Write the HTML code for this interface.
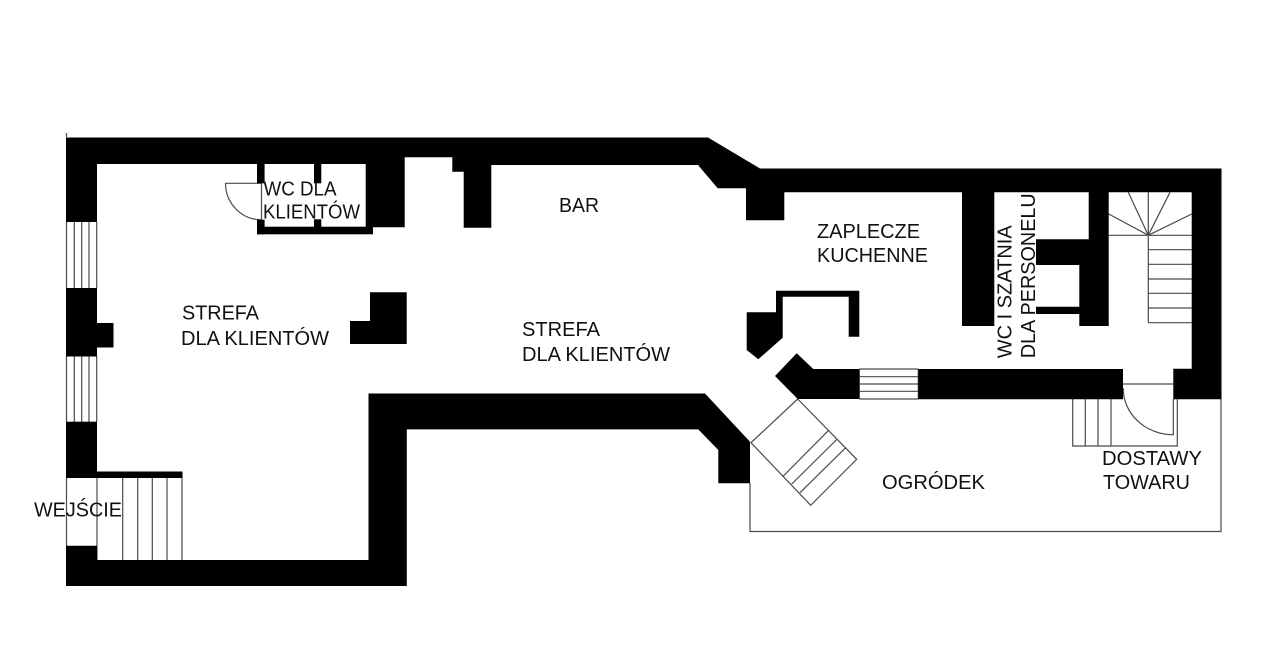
<!DOCTYPE html>
<html lang="pl">
<head>
<meta charset="utf-8">
<title>Plan</title>
<style>
html,body{margin:0;padding:0;background:#fff;width:1280px;height:671px;overflow:hidden}
svg{display:block}
text{font-family:"Liberation Sans",Arial,sans-serif;font-size:20px;fill:#111}
.l{stroke:#4a4a4a;stroke-width:1.2;fill:none}
</style>
</head>
<body>
<svg width="1280" height="671" viewBox="0 0 1280 671" xmlns="http://www.w3.org/2000/svg">
<rect width="1280" height="671" fill="#fff"/>

<!-- thin lines -->
<g class="l">
  <path d="M66.5 133V137"/>
  <!-- windows left -->
  <path d="M66.5 222V288M74.3 222V288M81.7 222V288M89 222V288M96.7 222V288"/>
  <path d="M66.5 356V422M74.3 356V422M81.7 356V422M89 356V422M96.7 356V422"/>
  <!-- entrance -->
  <path d="M66.5 478V546M97 478V560M122.7 478V560M137.7 478V560M152.3 478V560M167 478V560M182 478V560"/>
  <!-- wc door -->
  <path d="M261.5 183.3V220M261.5 183.3H225.5A36 36.5 0 0 0 261.5 219.8"/>
  <!-- garden window -->
  <path d="M859.3 369H918.3M859.3 376.7H918.3M859.3 384H918.3M859.3 391.3H918.3M859.3 399H918.3M859.3 369V399M918.3 369V399"/>
  <!-- diagonal stairs -->
  <path d="M797.7 399L856.7 459.3L810.7 505.3L751 442.7Z"/>
  <path d="M828.3 430.7L783.3 476M837.3 439L791.7 484M845.7 447.7L800 492.7"/>
  <!-- garden -->
  <path d="M750 483V531.5H1221V399"/>
  <!-- spiral stairs -->
  <path d="M1108.7 235.3H1191.7M1148.3 192.3V322.7M1148.3 235.3L1128.3 192.3M1148.3 235.3L1170 192.3M1148.3 235.3L1108.7 214M1148.3 235.3L1191.7 214"/>
  <path d="M1148.3 249.7H1191.7M1148.3 264.3H1191.7M1148.3 279H1191.7M1148.3 293.3H1191.7M1148.3 308H1191.7M1148.3 322.7H1191.7"/>
  <!-- delivery stairs and door -->
  <path d="M1072.7 399V446H1177.3V399M1085.3 399V446M1098 399V446M1111 399V446"/>
  <path d="M1123 384H1173M1173.3 399V434.7A50 46 0 0 1 1123.3 388"/>
</g>

<!-- walls -->
<g fill="#000">
  <polygon points="66,137.5 708,137.5 760,168.5 1221.5,168.5 1221.5,399.3 1173.3,399.3 1173.3,368.8 1191.7,368.8 1191.7,192.3 1108.7,192.3 1108.7,326 1079.3,326 1079.3,314 1036,314 1036,306.7 1079.3,306.7 1079.3,265 1036,265 1036,239.3 1088.7,239.3 1088.7,192.3 994.3,192.3 994.3,326 962,326 962,192.3 784.3,192.3 784.3,220.3 746,220.3 746,188.3 717.7,188.3 698,165 491.3,165 491.3,227.7 463.7,227.7 463.7,171.7 452.3,171.7 452.3,157.3 404.7,157.3 404.7,227.3 365.7,227.3 365.7,164 97,164 97,222 66,222"/>
  <rect x="257" y="164" width="7.6" height="19.3"/>
  <rect x="314" y="164" width="7.3" height="19.3"/>
  <rect x="257" y="219.7" width="7.6" height="14.6"/>
  <rect x="314" y="219.3" width="7.3" height="8"/>
  <rect x="257" y="226.7" width="116" height="7.6"/>
  <rect x="66" y="288" width="31" height="68.5"/>
  <rect x="97" y="323" width="16.5" height="24.5"/>
  <rect x="66" y="421.7" width="31" height="56.3"/>
  <rect x="97" y="471.5" width="85.5" height="6.5"/>
  <polygon points="66,545.7 97,545.7 97,560 368.5,560 368.5,393.5 705,393.5 750,441.7 750,483.3 718.3,483.3 718.3,450 698.3,429.4 406.8,429.4 406.8,586 66,586"/>
  <polygon points="370,292.3 406.7,292.3 406.7,344 350,344 350,321 370,321"/>
  <polygon points="776,290.7 859.3,290.7 859.3,336.7 848.7,336.7 848.7,296.7 782.7,296.7 782.7,337.7 758.3,359.3 746.7,350 746.7,312.3 776,312.3"/>
  <polygon points="796.7,353.3 813.3,369 859.3,369 859.3,399 797.7,399 775,376"/>
  <polygon points="918.3,369 1123,369 1123,399.3 918.3,399.3"/>
</g>

<!-- labels -->
<text x="182" y="319.3" textLength="77" lengthAdjust="spacingAndGlyphs">STREFA</text>
<text x="181" y="345" textLength="148" lengthAdjust="spacingAndGlyphs">DLA KLIENTÓW</text>
<text x="522" y="336" textLength="78" lengthAdjust="spacingAndGlyphs">STREFA</text>
<text x="522" y="361" textLength="148" lengthAdjust="spacingAndGlyphs">DLA KLIENTÓW</text>
<text x="559" y="212" textLength="40" lengthAdjust="spacingAndGlyphs">BAR</text>
<text x="817" y="238" textLength="103" lengthAdjust="spacingAndGlyphs">ZAPLECZE</text>
<text x="817" y="262" textLength="111" lengthAdjust="spacingAndGlyphs">KUCHENNE</text>
<text x="882" y="489" textLength="103" lengthAdjust="spacingAndGlyphs">OGRÓDEK</text>
<text x="1102" y="465" textLength="100" lengthAdjust="spacingAndGlyphs">DOSTAWY</text>
<text x="1103" y="489" textLength="87" lengthAdjust="spacingAndGlyphs">TOWARU</text>
<text x="34" y="516.7" textLength="88" lengthAdjust="spacingAndGlyphs">WEJŚCIE</text>
<text x="263.5" y="195.7" textLength="73" lengthAdjust="spacingAndGlyphs">WC DLA</text>
<text x="263" y="218.3" textLength="97" lengthAdjust="spacingAndGlyphs">KLIENTÓW</text>
<text transform="translate(1011.7 358.3) rotate(-90)" textLength="133" lengthAdjust="spacingAndGlyphs">WC I SZATNIA</text>
<text transform="translate(1035 358.3) rotate(-90)" textLength="165" lengthAdjust="spacingAndGlyphs">DLA PERSONELU</text>
</svg>
</body>
</html>
